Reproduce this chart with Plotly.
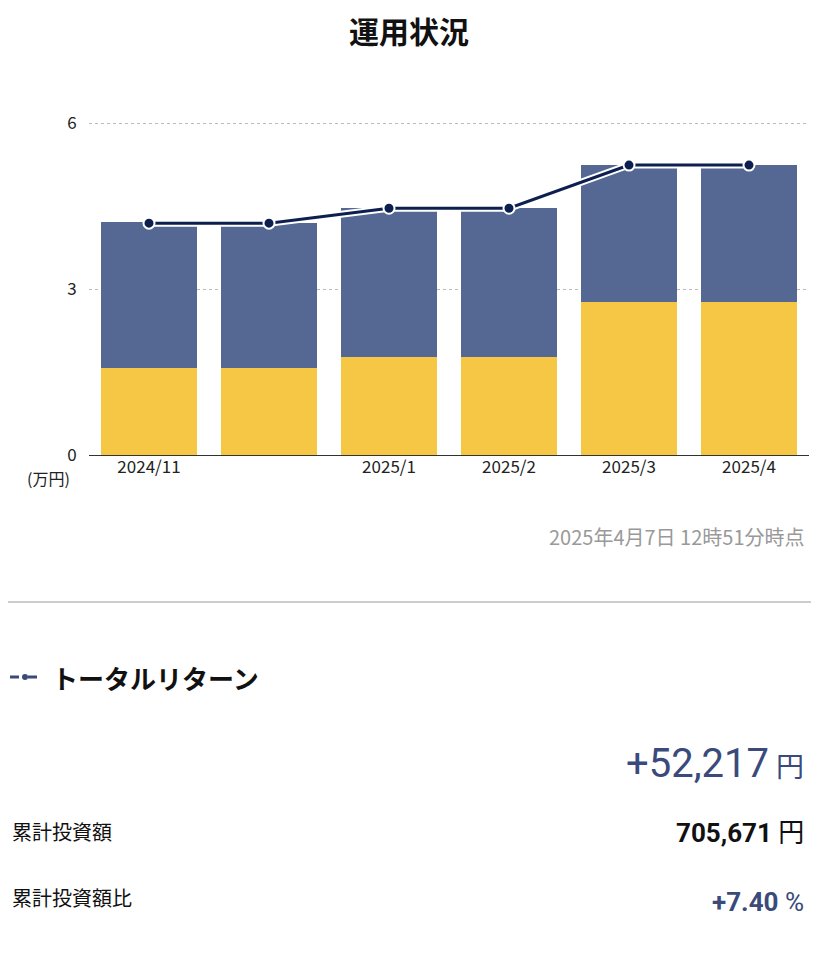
import plotly.graph_objects as go

categories = ["2024/11", "2024/12", "2025/1", "2025/2", "2025/3", "2025/4"]
tick_labels = ["2024/11", "", "2025/1", "2025/2", "2025/3", "2025/4"]
invested = [1.57, 1.57, 1.77, 1.77, 2.77, 2.77]
returns_part = [2.64, 2.62, 2.69, 2.69, 2.47, 2.47]
total_value = [4.19, 4.19, 4.46, 4.46, 5.24, 5.24]

W, H = 811, 952
T, B = 92, 505
PH = H - T - B
def py(p):
    return (455 - p) / PH
def px(p):
    return (p - 89) / 720

FONT = "Noto Sans CJK JP"
NAVY = "#0d1f4f"
fig = go.Figure()
fig.add_bar(x=categories, y=invested, marker_color="#f5c744", marker_line_width=0)
fig.add_bar(x=categories, y=returns_part, marker_color="#546893", marker_line_width=0)
fig.add_scatter(x=categories, y=total_value, mode="lines", line=dict(color="white", width=7), hoverinfo="skip")
fig.add_scatter(x=categories, y=total_value, mode="lines+markers", line=dict(color=NAVY, width=3),
                marker=dict(size=11, color=NAVY, line=dict(color="white", width=2)))

ann = [
    dict(x=px(409), y=py(30), text="<b>運用状況</b>", font=dict(size=30, color="#111")),
    dict(x=px(48), y=py(478), text="(万円)", font=dict(size=16, color="#222")),
    dict(x=px(806), y=py(536), text="2025年4月7日 12時51分時点", xanchor="right", font=dict(size=20, color="#999")),
    dict(x=px(50), y=py(677), text="<b>トータルリターン</b>", xanchor="left", font=dict(size=26, color="#111")),
    dict(x=px(806), y=py(763), text="<span style='font-size:40px'>+52,217</span> 円", xanchor="right",
         font=dict(size=28, color="#3a4a7a", family="Roboto, " + FONT)),
    dict(x=px(10), y=py(831), text="累計投資額", xanchor="left", font=dict(size=20, color="#111")),
    dict(x=px(806), y=py(833), text="<b>705,671</b> 円", xanchor="right", font=dict(size=26, color="#111", family="Roboto, " + FONT)),
    dict(x=px(10), y=py(897), text="累計投資額比", xanchor="left", font=dict(size=20, color="#111")),
    dict(x=px(806), y=py(902), text="<b>+7.40</b> %", xanchor="right", font=dict(size=26, color="#3a4a7a", family="Roboto, " + FONT)),
]
for a in ann:
    a["xref"] = "paper"
    a["yref"] = "paper"
    a["showarrow"] = False
    a.setdefault("xanchor", "center")
    a["yanchor"] = "middle"

shapes = [
    dict(type="line", xref="paper", yref="paper", x0=px(0), x1=px(819), y0=py(602), y1=py(602),
         line=dict(color="#cccccc", width=2)),
    dict(type="line", xref="paper", yref="paper", x0=px(10), x1=px(40), y0=py(677), y1=py(677),
         line=dict(color="#3a4a7a", width=3, dash="dash")),
    dict(type="circle", xref="paper", yref="paper", x0=px(22), x1=px(28), y0=py(680), y1=py(674),
         fillcolor="#3a4a7a", line=dict(width=0)),
]

fig.update_layout(
    width=W, height=H, barmode="stack", bargap=0.2, showlegend=False,
    plot_bgcolor="white", paper_bgcolor="white",
    margin=dict(l=81, r=10, t=T, b=B),
    font=dict(family=FONT, color="#222"),
    annotations=ann, shapes=shapes,
    xaxis=dict(tickvals=categories, ticktext=tick_labels, showgrid=False, showline=False,
               tickfont=dict(size=17, color="#222"), fixedrange=True),
    yaxis=dict(range=[0, PH / 55.33], tickvals=[0, 3, 6], showgrid=True, gridcolor="#bbbbbb",
               griddash="dot", zeroline=True, zerolinecolor="#333", zerolinewidth=1,
               tickfont=dict(size=17, color="#222"), ticks="outside", ticklen=8, tickcolor="white"),
)
fig.write_html("out.html")
